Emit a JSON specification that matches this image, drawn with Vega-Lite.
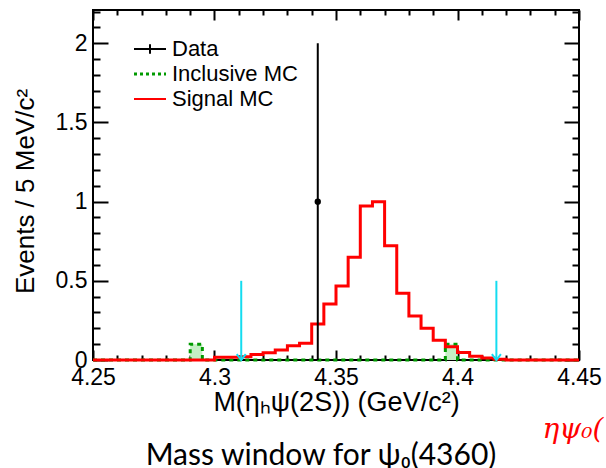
{
  "$schema": "https://vega.github.io/schema/vega-lite/v6.json",
  "width": 486,
  "height": 350,
  "autosize": "none",
  "padding": {"left": 93, "top": 10, "right": 27, "bottom": 108},
  "background": "white",
  "title": {"text": "Mass window for ψ₀(4360)", "orient": "bottom", "anchor": "middle", "font": "Lato", "fontSize": 30, "fontWeight": "normal", "color": "black", "offset": -3, "dx": -15},
  "datasets": {
    "hist": [
      {"m": 4.25, "sig": 0, "incl": 0},
      {"m": 4.255, "sig": 0, "incl": 0},
      {"m": 4.26, "sig": 0, "incl": 0},
      {"m": 4.265, "sig": 0, "incl": 0},
      {"m": 4.27, "sig": 0, "incl": 0},
      {"m": 4.275, "sig": 0, "incl": 0},
      {"m": 4.28, "sig": 0, "incl": 0},
      {"m": 4.285, "sig": 0, "incl": 0},
      {"m": 4.29, "sig": 0, "incl": 0.1},
      {"m": 4.295, "sig": 0, "incl": 0},
      {"m": 4.3, "sig": 0.017, "incl": 0},
      {"m": 4.305, "sig": 0.017, "incl": 0},
      {"m": 4.31, "sig": 0.02, "incl": 0},
      {"m": 4.315, "sig": 0.035, "incl": 0},
      {"m": 4.32, "sig": 0.046, "incl": 0},
      {"m": 4.325, "sig": 0.063, "incl": 0},
      {"m": 4.33, "sig": 0.09, "incl": 0},
      {"m": 4.335, "sig": 0.105, "incl": 0},
      {"m": 4.34, "sig": 0.227, "incl": 0},
      {"m": 4.345, "sig": 0.354, "incl": 0},
      {"m": 4.35, "sig": 0.468, "incl": 0},
      {"m": 4.355, "sig": 0.649, "incl": 0},
      {"m": 4.36, "sig": 0.973, "incl": 0},
      {"m": 4.365, "sig": 1.0, "incl": 0},
      {"m": 4.37, "sig": 0.722, "incl": 0},
      {"m": 4.375, "sig": 0.421, "incl": 0},
      {"m": 4.38, "sig": 0.278, "incl": 0},
      {"m": 4.385, "sig": 0.2, "incl": 0},
      {"m": 4.39, "sig": 0.124, "incl": 0},
      {"m": 4.395, "sig": 0.084, "incl": 0.1},
      {"m": 4.4, "sig": 0.048, "incl": 0},
      {"m": 4.405, "sig": 0.024, "incl": 0},
      {"m": 4.41, "sig": 0.012, "incl": 0},
      {"m": 4.415, "sig": 0.004, "incl": 0},
      {"m": 4.42, "sig": 0, "incl": 0},
      {"m": 4.425, "sig": 0, "incl": 0},
      {"m": 4.43, "sig": 0, "incl": 0},
      {"m": 4.435, "sig": 0, "incl": 0},
      {"m": 4.44, "sig": 0, "incl": 0},
      {"m": 4.445, "sig": 0, "incl": 0},
      {"m": 4.45, "sig": 0, "incl": 0}
    ],
    "inclBoxes": [
      {"lo": 4.29, "hi": 4.295, "v": 0.1},
      {"lo": 4.395, "hi": 4.4, "v": 0.1}
    ],
    "dataPts": [
      {"m": 4.3425, "n": 1, "lo": 0, "hi": 2}
    ],
    "arrows": [
      {"m": 4.311, "top": 0.5},
      {"m": 4.416, "top": 0.5}
    ]
  },
  "layer": [
    {
      "data": {"name": "inclBoxes"},
      "mark": {"type": "rect", "fill": "#c4efc4"},
      "encoding": {
        "x": {"field": "lo", "type": "quantitative", "scale": {"domain": [4.25, 4.45], "nice": false, "zero": false},
          "axis": {"orient": "bottom", "values": [4.25, 4.3, 4.35, 4.4, 4.45], "format": "~g", "ticks": false, "labelPadding": 6, "labelFlush": false, "labelOverlap": false, "labelBound": false,
            "title": "M(ηₕψ(2S)) (GeV/c²)", "titleFontSize": 27, "titleX": 243, "titleY": 50, "titleBaseline": "alphabetic", "titleAlign": "center"}},
        "x2": {"field": "hi"},
        "y": {"field": "v", "type": "quantitative", "scale": {"domain": [0, 2.21], "nice": false, "zero": false},
          "axis": {"orient": "left", "values": [0, 0.5, 1, 1.5, 2], "format": "~g", "ticks": false, "labelPadding": 6, "labelFlush": false, "labelOverlap": false, "labelBound": false,
            "title": "Events / 5 MeV/c²", "titleFontSize": 26, "titleX": -60, "titleY": 181, "titleAngle": -90, "titleBaseline": "alphabetic", "titleAlign": "center"}},
        "y2": {"datum": 0}
      }
    },
    {
      "data": {"name": "hist"},
      "mark": {"type": "line", "interpolate": "step-after", "strokeWidth": 3, "strokeDash": [4, 4]},
      "encoding": {
        "x": {"field": "m", "type": "quantitative", "scale": {"domain": [4.25, 4.45], "nice": false, "zero": false}, "axis": null},
        "y": {"field": "incl", "type": "quantitative", "scale": {"domain": [0, 2.21], "nice": false, "zero": false}, "axis": null},
        "color": {"datum": "Inclusive MC"}
      }
    },
    {
      "data": {"name": "hist"},
      "mark": {"type": "line", "interpolate": "step-after", "strokeWidth": 3},
      "encoding": {
        "x": {"field": "m", "type": "quantitative", "scale": {"domain": [4.25, 4.45], "nice": false, "zero": false}, "axis": null},
        "y": {"field": "sig", "type": "quantitative", "scale": {"domain": [0, 2.21], "nice": false, "zero": false}, "axis": null},
        "color": {"datum": "Signal MC",
          "scale": {"domain": ["Data", "Inclusive MC", "Signal MC"], "range": ["#000000", "#009a00", "#ff0000"]},
          "legend": {"orient": "none", "legendX": 46, "legendY": 28, "title": null, "padding": 0,
            "symbolSize": 1024, "symbolStrokeWidth": 2.5, "labelFont": "Liberation Sans", "labelFontSize": 22, "labelColor": "black",
            "labelOffset": 11, "rowPadding": 3,
            "encode": {"symbols": {"update": {
              "shape": {"signal": "datum.value === 'Data' ? 'M-1,0H1M0,-0.3V0.3' : 'M-1,0H1'"},
              "strokeDash": {"signal": "datum.value === 'Inclusive MC' ? [3,3] : [1,0]"},
              "strokeWidth": {"signal": "datum.value === 'Inclusive MC' ? 3 : 2"},
              "fill": {"value": "transparent"},
              "stroke": {"scale": "color", "field": "value"},
              "opacity": {"value": 1}
            }}}}
        }
      }
    },
    {
      "data": {"name": "dataPts"},
      "mark": {"type": "rule", "strokeWidth": 2},
      "encoding": {
        "x": {"field": "m", "type": "quantitative", "scale": {"domain": [4.25, 4.45], "nice": false, "zero": false},
          "axis": {"orient": "top", "values": [4.26, 4.27, 4.28, 4.29, 4.31, 4.32, 4.33, 4.34, 4.36, 4.37, 4.38, 4.39, 4.41, 4.42, 4.43, 4.44], "labelExpr": "''", "offset": -5, "tickSize": 5, "title": null}},
        "y": {"field": "lo", "type": "quantitative", "scale": {"domain": [0, 2.21], "nice": false, "zero": false},
          "axis": {"orient": "right", "values": [0.1, 0.2, 0.3, 0.4, 0.6, 0.7, 0.8, 0.9, 1.1, 1.2, 1.3, 1.4, 1.6, 1.7, 1.8, 1.9, 2.1, 2.2], "labelExpr": "''", "offset": -7, "tickSize": 7, "title": null}},
        "y2": {"field": "hi"},
        "color": {"datum": "Data"}
      }
    },
    {
      "data": {"name": "dataPts"},
      "mark": {"type": "point", "filled": true, "size": 40, "opacity": 1},
      "encoding": {
        "x": {"field": "m", "type": "quantitative", "scale": {"domain": [4.25, 4.45], "nice": false, "zero": false}, "axis": null},
        "y": {"field": "n", "type": "quantitative", "scale": {"domain": [0, 2.21], "nice": false, "zero": false}, "axis": null},
        "color": {"datum": "Data"}
      }
    },
    {
      "data": {"name": "arrows"},
      "mark": {"type": "rule", "strokeWidth": 2, "color": "#14dcf0"},
      "encoding": {
        "x": {"field": "m", "type": "quantitative", "scale": {"domain": [4.25, 4.45], "nice": false, "zero": false},
          "axis": {"orient": "bottom", "values": [4.25, 4.3, 4.35, 4.4, 4.45], "labelExpr": "''", "offset": -10, "tickSize": 10, "title": null}},
        "y": {"field": "top", "type": "quantitative", "scale": {"domain": [0, 2.21], "nice": false, "zero": false},
          "axis": {"orient": "left", "values": [0, 0.5, 1, 1.5, 2], "labelExpr": "''", "offset": -15, "tickSize": 15, "title": null}},
        "y2": {"datum": 0}
      }
    },
    {
      "data": {"name": "arrows"},
      "mark": {"type": "point", "shape": "M-1,-1.3L0,0L1,-1.3", "size": 81, "filled": false, "stroke": "#14dcf0", "strokeWidth": 2, "opacity": 1},
      "encoding": {
        "x": {"field": "m", "type": "quantitative", "scale": {"domain": [4.25, 4.45], "nice": false, "zero": false},
          "axis": {"orient": "bottom", "values": [4.26, 4.27, 4.28, 4.29, 4.31, 4.32, 4.33, 4.34, 4.36, 4.37, 4.38, 4.39, 4.41, 4.42, 4.43, 4.44], "labelExpr": "''", "offset": -5, "tickSize": 5, "title": null}},
        "y": {"datum": 0, "type": "quantitative", "scale": {"domain": [0, 2.21], "nice": false, "zero": false},
          "axis": {"orient": "left", "values": [0.1, 0.2, 0.3, 0.4, 0.6, 0.7, 0.8, 0.9, 1.1, 1.2, 1.3, 1.4, 1.6, 1.7, 1.8, 1.9, 2.1, 2.2], "labelExpr": "''", "offset": -7, "tickSize": 7, "title": null}}
      }
    },
    {
      "data": {"values": [{"t": "ηψ₀("}]},
      "mark": {"type": "text", "align": "left", "baseline": "alphabetic", "font": "DejaVu Serif", "fontStyle": "italic", "fontSize": 28, "color": "#ff0000"},
      "encoding": {
        "x": {"datum": 4.435, "type": "quantitative", "scale": {"domain": [4.25, 4.45], "nice": false, "zero": false},
          "axis": {"orient": "top", "values": [4.25, 4.3, 4.35, 4.4, 4.45], "labelExpr": "''", "offset": -10, "tickSize": 10, "title": null}},
        "y": {"datum": -0.49, "type": "quantitative", "scale": {"domain": [0, 2.21], "nice": false, "zero": false},
          "axis": {"orient": "right", "values": [0, 0.5, 1, 1.5, 2], "labelExpr": "''", "offset": -15, "tickSize": 15, "title": null}},
        "text": {"field": "t"}
      }
    }
  ],
  "resolve": {"axis": {"x": "independent", "y": "independent"}},
  "config": {
    "view": {"stroke": "black", "strokeWidth": 2},
    "axis": {"grid": false, "domain": false, "tickColor": "#000000", "tickWidth": 2,
      "labelFont": "Liberation Sans", "labelFontSize": 23, "labelColor": "black",
      "titleFont": "Liberation Sans", "titleFontSize": 24, "titleFontWeight": "normal", "titleColor": "black"}
  }
}
